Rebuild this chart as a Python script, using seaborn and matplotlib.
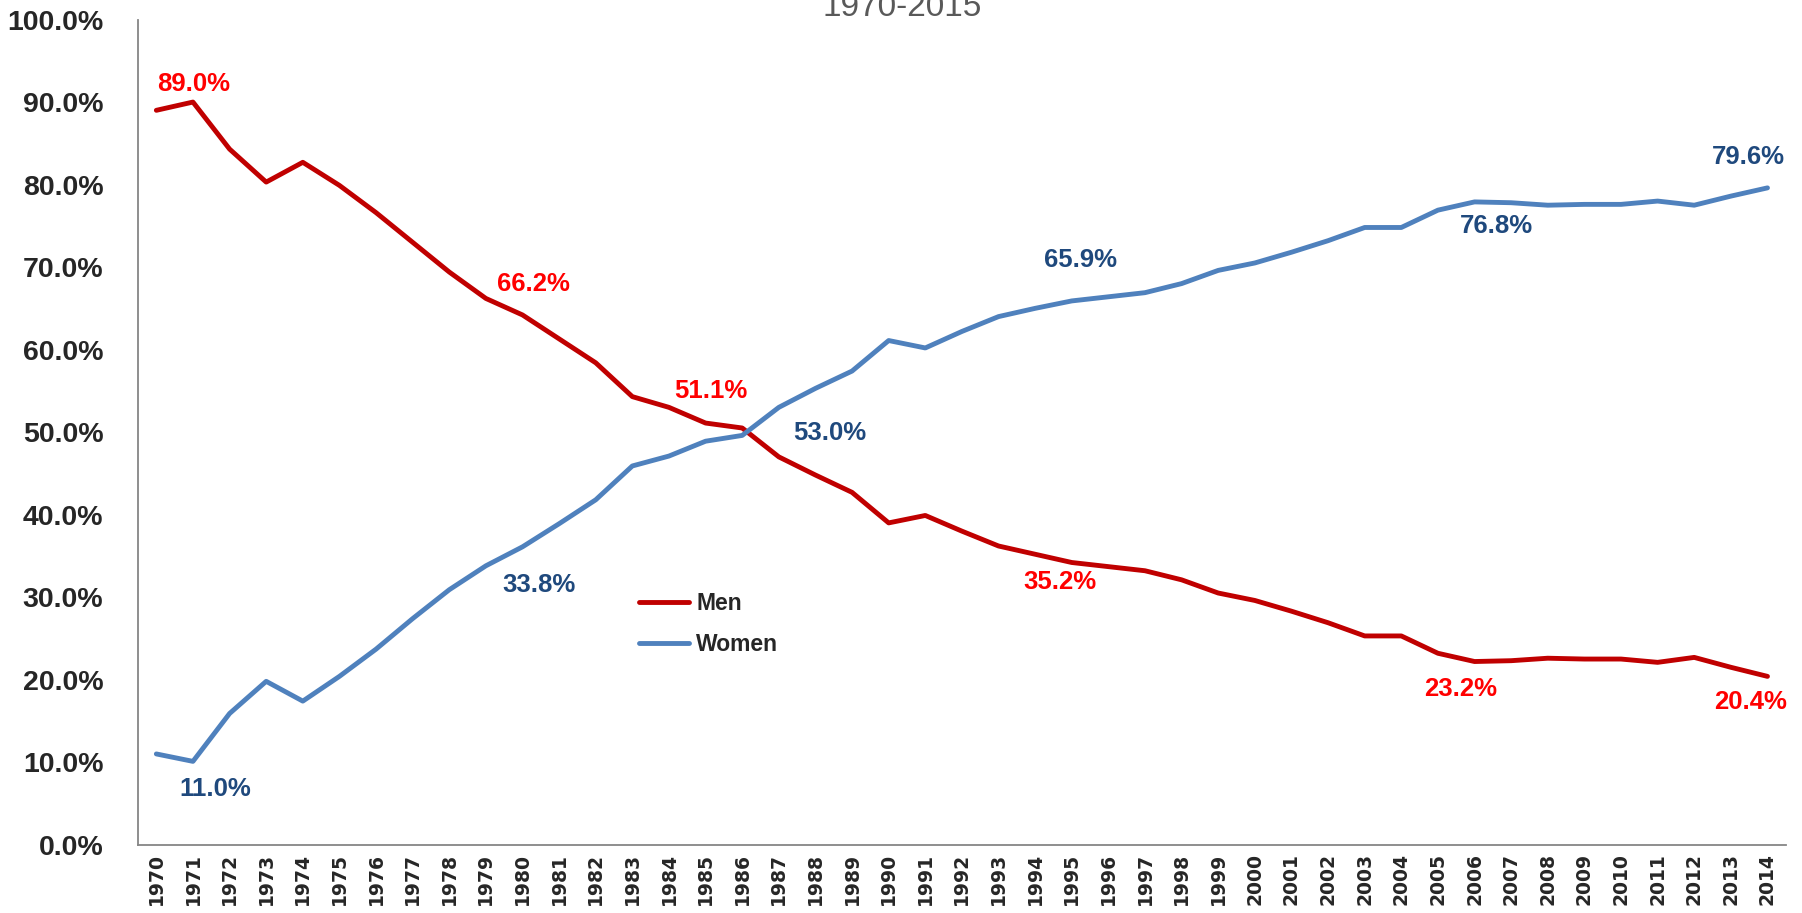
# line chart men vs women share, 1970-2014

import matplotlib
matplotlib.use("Agg")
import matplotlib.pyplot as plt
import pandas as pd
import seaborn as sns
from matplotlib.ticker import FuncFormatter, FixedLocator
from matplotlib.lines import Line2D

years = list(range(1970, 2015))

men = [89.0, 90.0, 84.3, 80.3, 82.7, 79.9, 76.6, 73.0, 69.4, 66.2,
       64.2, 61.3, 58.4, 54.3, 53.0, 51.1, 50.5, 47.0, 44.8, 42.7,
       39.0, 39.9, 38.0, 36.2, 35.2, 34.2, 33.7, 33.2, 32.1, 30.5,
       29.6, 28.3, 26.9, 25.3, 25.3, 23.2, 22.2, 22.3, 22.6, 22.5,
       22.5, 22.1, 22.7, 21.5, 20.4]

women = [11.0, 10.1, 15.9, 19.8, 17.4, 20.4, 23.7, 27.4, 30.9, 33.8,
         36.1, 38.9, 41.8, 45.9, 47.1, 48.9, 49.6, 53.0, 55.3, 57.4,
         61.1, 60.2, 62.2, 64.0, 65.0, 65.9, 66.4, 66.9, 68.0, 69.6,
         70.5, 71.8, 73.2, 74.8, 74.8, 76.9, 77.9, 77.8, 77.5, 77.6,
         77.6, 78.0, 77.5, 78.6, 79.6]

series_names = ["Men", "Women"]
line_colors = ["#C00000", "#4F81BD"]
label_colors = ["#FF0000", "#1F497D"]

# callout labels: (series, text, x position, y position)
callouts = [
    ("Men", "89.0%", 1971.03, 92.2),
    ("Men", "66.2%", 1980.31, 68.0),
    ("Men", "51.1%", 1985.14, 55.0),
    ("Men", "35.2%", 1994.67, 31.8),
    ("Men", "23.2%", 2005.61, 18.9),
    ("Men", "20.4%", 2013.54, 17.3),
    ("Women", "11.0%", 1971.6, 6.7),
    ("Women", "33.8%", 1980.44, 31.5),
    ("Women", "53.0%", 1988.4, 49.9),
    ("Women", "65.9%", 1995.23, 70.8),
    ("Women", "76.8%", 2006.6, 75.0),
    ("Women", "79.6%", 2013.48, 83.3),
]

df = pd.DataFrame({
    "year": years * 2,
    "share": men + women,
    "group": ["Men"] * len(years) + ["Women"] * len(years),
})

sns.set_style("white")
plt.rcParams["font.family"] = ["Liberation Sans", "DejaVu Sans"]

fig = plt.figure(figsize=(18.02, 9.13), dpi=100)
ax = fig.add_axes([0.0766, 0.0748, 0.9144, 0.9038])

palette = dict(zip(series_names, line_colors))
sns.lineplot(data=df, x="year", y="share", hue="group", palette=palette,
             linewidth=3.5, ax=ax, legend=False)

ax.set_xlim(1969.5, 2014.5)
ax.set_ylim(0, 100)
ax.set_xlabel("")
ax.set_ylabel("")

# y axis
ax.set_yticks(range(0, 101, 10))
ax.yaxis.set_major_formatter(FuncFormatter(lambda v, p: f"{v:.1f}%"))
ax.tick_params(axis="y", direction="out", length=6, width=1.2, color="#868686",
               pad=19, labelsize=20.5)
for lab in ax.get_yticklabels():
    lab.set_fontweight("bold")

# x axis: labels at categories, ticks at boundaries
ax.set_xticks(years)
ax.set_xticklabels([str(y) for y in years], rotation=90, fontweight="bold",
                   fontsize=13.5, family="DejaVu Sans")
ax.tick_params(axis="x", which="major", length=0, pad=6)
ax.xaxis.set_minor_locator(FixedLocator([y - 0.5 for y in years] + [years[-1] + 0.5]))
ax.tick_params(axis="x", which="minor", direction="out", length=6, width=1.2,
               color="#868686")

for side in ["top", "right"]:
    ax.spines[side].set_visible(False)
for side in ["left", "bottom"]:
    ax.spines[side].set_color("#868686")
    ax.spines[side].set_linewidth(1.3)
ax.grid(False)

# callouts
color_for = dict(zip(series_names, label_colors))
for name, txt, xx, yy in callouts:
    ax.text(xx, yy, txt, color=color_for[name], fontsize=18.5, fontweight="bold",
            ha="center", va="center")

# legend
handles = [Line2D([0], [0], color=c, linewidth=3.5) for c in line_colors]
ax.legend(handles, series_names, loc="upper left", bbox_to_anchor=(0.3546, 0.352),
          bbox_transform=fig.transFigure, frameon=False, borderpad=0,
          borderaxespad=0, handlelength=2.2, handletextpad=0.3,
          labelspacing=0.8, prop={"weight": "bold", "size": 16.5})

# title, partly above the top edge like the source
fig.text(0.5006, 0.982, "1970-2015", ha="center", va="baseline", fontsize=24,
         color="#595959")

fig.savefig("out.png", dpi=100)
